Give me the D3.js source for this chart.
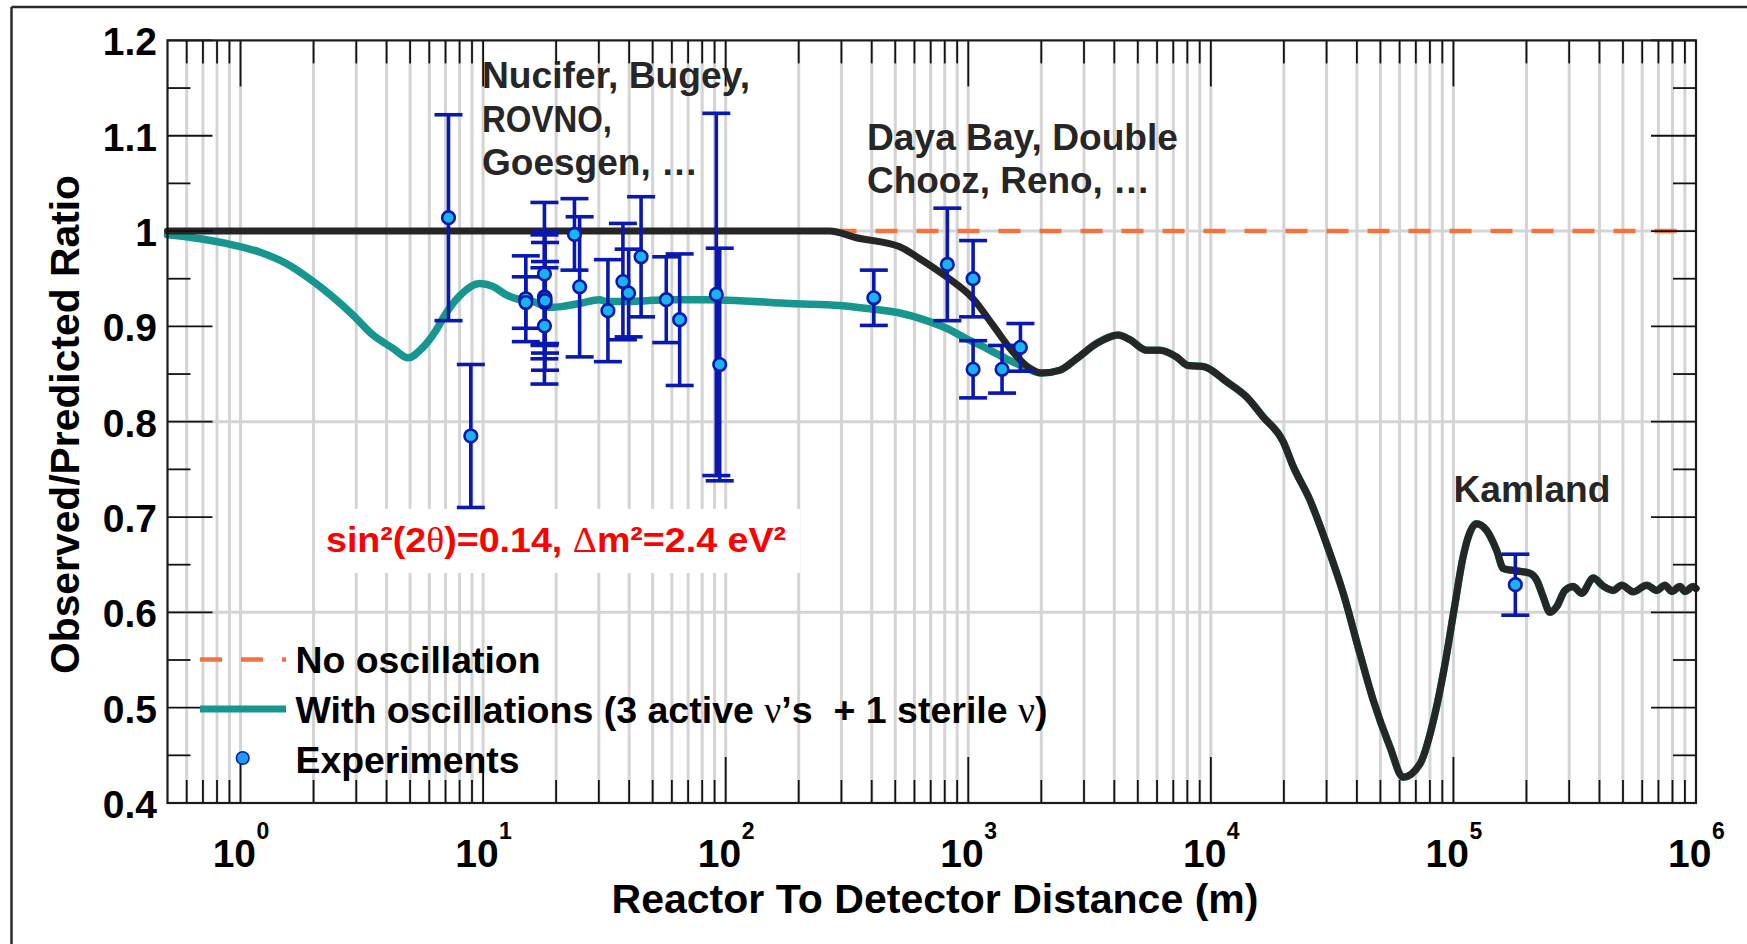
<!DOCTYPE html>
<html><head><meta charset="utf-8">
<script src="https://cdn.jsdelivr.net/npm/d3@7"></script>
<style>
html,body{margin:0;padding:0;background:#fff;}
svg{display:block;}
text{font-family:"Liberation Sans", Arial, Helvetica, sans-serif;font-weight:bold;}
</style></head><body>
<svg id="chart" width="1747" height="944"></svg>
<script>
// ---------------- DATA ----------------
const xDecades = [0, 1, 2, 3, 4, 5, 6];
const yTickValues = [0.4, 0.5, 0.6, 0.7, 0.8, 0.9, 1.0, 1.1, 1.2];
const yTickLabels = ["0.4", "0.5", "0.6", "0.7", "0.8", "0.9", "1", "1.1", "1.2"];
const yGridValues = [0.6, 0.8, 1.0];

// Experiments: distance (m), observed/predicted ratio, error
const expDistance = [7.2, 8.9, 15.0, 15.0, 17.9, 17.9, 17.9, 18.0, 18.0, 18.0,
  23.8, 25.0, 32.7, 37.7, 39.8, 44.8, 56.9, 64.6, 91.5, 94.5,
  408, 820, 1047, 1047, 1378, 1641, 180000];
const expRatio = [1.014, 0.785, 0.929, 0.925, 0.955, 0.9005, 0.931, 0.930, 0.925, 0.927,
  0.9965, 0.9415, 0.9165, 0.947, 0.935, 0.973, 0.928, 0.907, 0.9335, 0.860,
  0.930, 0.965, 0.950, 0.855, 0.855, 0.878, 0.629];
const expError = [0.108, 0.075, 0.045, 0.027, 0.075, 0.061, 0.065, 0.058, 0.043, 0.073,
  0.0375, 0.0735, 0.0535, 0.061, 0.046, 0.063, 0.045, 0.069, 0.190, 0.122,
  0.029, 0.059, 0.040, 0.030, 0.025, 0.025, 0.032];

// No oscillation
const noOscDistance = [0.5, 1000000];
const noOscRatio = [1.0, 1.0];

// 3 active + 1 sterile (teal), short-baseline part
const tealNearDistance = [0.5, 0.636, 0.873, 1.197, 1.543, 1.925, 2.40, 2.905, 3.513, 4.25, 4.9, 5.6, 6.4, 7.0, 8.0, 9.67,
  10.97, 12.47, 14.15, 16.05, 18.8, 21.3, 25.0, 30.2, 32.2, 38.9, 47.1, 60.6, 83.3, 114.2, 183.7,
  295, 405, 522, 673, 813, 984, 1188, 1436, 1683];
const tealNearRatio = [0.996, 0.993, 0.987, 0.978, 0.966, 0.950, 0.931, 0.912, 0.891, 0.877, 0.867, 0.877, 0.896, 0.913, 0.932, 0.945,
  0.942, 0.933, 0.928, 0.926, 0.920, 0.921, 0.924, 0.928, 0.926, 0.926, 0.927, 0.928, 0.928, 0.927, 0.924,
  0.922, 0.918, 0.914, 0.906, 0.898, 0.887, 0.877, 0.866, 0.858];

// 3 active only (black), short-baseline part
const blackNearDistance = [0.5, 100, 268, 346, 522, 631, 813, 1047, 1266, 1530, 1794];
const blackNearRatio = [1.0, 1.0, 1.0, 0.993, 0.9835, 0.971, 0.952, 0.929, 0.901, 0.873, 0.856];

// Long-baseline part shared by both curves
const farDistance = [2004, 2384, 2793, 3380, 4150, 4637, 5430, 6165, 7215, 8060, 9295, 11610, 14040, 16440,
  19880, 21860, 25600, 29980, 35140, 41130, 46690, 54710, 62080, 72780, 83340, 91900, 100500, 109600,
  115100, 124300, 137000, 150700, 160500, 176500, 206800, 220300, 234600, 250000, 266500, 288300,
  311900, 337900, 377200, 414800, 456000, 493800, 551300, 626200, 688600, 744700, 794300, 859000,
  900500, 975000, 1000000];
const farRatio = [0.851, 0.854, 0.866, 0.882, 0.891, 0.886, 0.875, 0.875, 0.868, 0.859, 0.858, 0.842, 0.826, 0.805,
  0.779, 0.753, 0.718, 0.672, 0.620, 0.557, 0.508, 0.459, 0.427, 0.441, 0.490, 0.543, 0.602, 0.658,
  0.679, 0.693, 0.686, 0.665, 0.646, 0.644, 0.641, 0.634, 0.616, 0.600, 0.606, 0.623,
  0.627, 0.620, 0.636, 0.6275, 0.623, 0.6285, 0.6215, 0.6285, 0.623, 0.6285, 0.622, 0.627,
  0.622, 0.627, 0.625];

const groupLabelLines = [["Nucifer, Bugey,", "ROVNO,", "Goesgen, …"], ["Daya Bay, Double", "Chooz, Reno, …"], ["Kamland"]];
const legendLabels = ["No oscillation", "With oscillations (3 active ν’s  + 1 sterile ν)", "Experiments"];

// ---------------- DRAWING ----------------
const svg = d3.select("#chart");
const X0 = 167.5, X1 = 1696, Y0 = 40.4, Y1 = 803;
const x = d3.scaleLog().domain([0.5, 1e6]).range([X0, X1]);
const y = d3.scaleLinear().domain([0.4, 1.2]).range([Y1, Y0]);

const GRID = "#d4d4d4", TEAL = "#16968f", BLACK = "#262626", ORANGE = "#f4733c",
      EBLUE = "#0a18b0", MFILL = "#19b3ee", TXT = "#262626";
const SERIF = "'Liberation Serif', 'DejaVu Serif', serif";

// outer frame
svg.append("line").attr("x1", 11.5).attr("x2", 1747).attr("y1", 7).attr("y2", 7).attr("stroke", "#2a2a2a").attr("stroke-width", 2.5);
svg.append("line").attr("x1", 11.5).attr("x2", 11.5).attr("y1", 7).attr("y2", 944).attr("stroke", "#2a2a2a").attr("stroke-width", 2.5);

// x tick values: k * 10^n
const xTickVals = [];
for (let n = -1; n <= 5; n++) for (let k = 1; k <= 9; k++) {
  const v = +(k * Math.pow(10, n)).toPrecision(3);
  if (v > 0.5 && v <= 1e6) xTickVals.push(v);
}
xTickVals.push(1e6);
const isDecade = v => Math.abs(Math.log10(v) - Math.round(Math.log10(v))) < 1e-9;

// grid
const g = svg.append("g");
g.selectAll("line.vg").data(xTickVals.filter(v => v < 1e6)).enter().append("line")
  .attr("x1", d => x(d)).attr("x2", d => x(d)).attr("y1", Y0).attr("y2", Y1)
  .attr("stroke", GRID).attr("stroke-width", 3);
g.selectAll("line.hg").data(yGridValues).enter().append("line")
  .attr("x1", X0).attr("x2", X1).attr("y1", d => y(d)).attr("y2", d => y(d))
  .attr("stroke", GRID).attr("stroke-width", 3);

// annotation box
svg.append("rect").attr("x", 316).attr("y", 509).attr("width", 484).attr("height", 64).attr("fill", "#fff");
const ann = svg.append("text").attr("x", 326).attr("y", 552).attr("fill", "#ff0000").style("font-size", "35px")
  .attr("textLength", 460).attr("lengthAdjust", "spacingAndGlyphs");
ann.append("tspan").text("sin²(2");
ann.append("tspan").style("font-family", SERIF).style("font-weight", "normal").text("θ");
ann.append("tspan").text(")=0.14, ");
ann.append("tspan").style("font-family", SERIF).style("font-weight", "normal").text("Δ");
ann.append("tspan").text("m²=2.4 eV²");

// curves
const line = d3.line().x(d => x(d[0])).y(d => y(d[1])).curve(d3.curveMonotoneX);
const noOsc = noOscDistance.map((d, i) => [d, noOscRatio[i]]);
const teal = tealNearDistance.map((d, i) => [d, tealNearRatio[i]]).concat(farDistance.map((d, i) => [d, farRatio[i]]));
const black = blackNearDistance.map((d, i) => [d, blackNearRatio[i]]).concat(farDistance.map((d, i) => [d, farRatio[i]]));

svg.append("path").attr("d", line(noOsc)).attr("fill", "none").attr("stroke", ORANGE).attr("stroke-width", 4.5)
  .attr("stroke-dasharray", "22 19").attr("stroke-dashoffset", 30);
svg.append("path").attr("d", line(teal)).attr("fill", "none").attr("stroke", TEAL).attr("stroke-width", 7.5)
  .attr("stroke-linejoin", "round").attr("stroke-linecap", "round");
svg.append("path").attr("d", line(black)).attr("fill", "none").attr("stroke", BLACK).attr("stroke-width", 7)
  .attr("stroke-linejoin", "round").attr("stroke-linecap", "round");

// experiments
const exps = expDistance.map((d, i) => ({d, r: expRatio[i], e: expError[i]}));
const eb = svg.append("g").attr("stroke", EBLUE).attr("stroke-width", 3.6);
exps.forEach(p => {
  const cx = x(p.d);
  eb.append("line").attr("x1", cx).attr("x2", cx).attr("y1", y(p.r + p.e)).attr("y2", y(p.r - p.e));
  eb.append("line").attr("x1", cx - 14).attr("x2", cx + 14).attr("y1", y(p.r + p.e)).attr("y2", y(p.r + p.e));
  eb.append("line").attr("x1", cx - 14).attr("x2", cx + 14).attr("y1", y(p.r - p.e)).attr("y2", y(p.r - p.e));
});
svg.append("g").selectAll("circle").data(exps).enter().append("circle")
  .attr("cx", p => x(p.d)).attr("cy", p => y(p.r)).attr("r", 6.3)
  .attr("fill", MFILL).attr("stroke", EBLUE).attr("stroke-width", 2.6);

// ticks
const tk = svg.append("g").attr("stroke", "#111").attr("stroke-width", 1.8);
d3.range(0, 17).map(i => 0.4 + i * 0.05).forEach((v, i) => {
  const L = (i % 2 === 0) ? 45 : 23;
  tk.append("line").attr("x1", X0).attr("x2", X0 + L).attr("y1", y(v)).attr("y2", y(v));
  tk.append("line").attr("x1", X1 - L).attr("x2", X1).attr("y1", y(v)).attr("y2", y(v));
});
xTickVals.forEach(v => {
  const L = isDecade(v) ? 46 : 23;
  tk.append("line").attr("x1", x(v)).attr("x2", x(v)).attr("y1", Y1).attr("y2", Y1 - L);
  tk.append("line").attr("x1", x(v)).attr("x2", x(v)).attr("y1", Y0).attr("y2", Y0 + L);
});

// frame
svg.append("rect").attr("x", X0).attr("y", Y0).attr("width", X1 - X0).attr("height", Y1 - Y0)
  .attr("fill", "none").attr("stroke", "#1a1a1a").attr("stroke-width", 2.2);

// y tick labels
svg.append("g").selectAll("text").data(yTickValues).enter().append("text")
  .attr("x", 157).attr("y", d => y(d) + 15).attr("text-anchor", "end").attr("fill", "#000")
  .style("font-size", "39px").text((d, i) => yTickLabels[i]);

// x tick labels
const xl = svg.append("g");
xDecades.forEach(n => {
  const px = x(Math.pow(10, n));
  xl.append("text").attr("x", px + 15.5).attr("y", 867).attr("text-anchor", "end").attr("fill", "#000")
    .style("font-size", "39px").text("10");
  xl.append("text").attr("x", px + 16).attr("y", 839).attr("fill", "#000").style("font-size", "23px").text(n);
});

// axis titles
svg.append("text").attr("transform", "translate(79,424.5) rotate(-90)").attr("text-anchor", "middle")
  .attr("fill", "#000").style("font-size", "41px").attr("textLength", 499).attr("lengthAdjust", "spacingAndGlyphs")
  .text("Observed/Predicted Ratio");
svg.append("text").attr("x", 611.5).attr("y", 912.5).attr("fill", "#000").style("font-size", "41px")
  .attr("textLength", 647).attr("lengthAdjust", "spacingAndGlyphs").text("Reactor To Detector Distance (m)");

// group labels
const glPos = [{x: 482, y: 88.3, w: [268, 130, 216]}, {x: 867, y: 150, w: [311, 283]}, {x: 1453.5, y: 501.7, w: [157]}];
groupLabelLines.forEach((lines, gi) => {
  lines.forEach((t, li) => {
    svg.append("text").attr("x", glPos[gi].x).attr("y", glPos[gi].y + li * 43.2).attr("fill", TXT)
      .style("font-size", "36.5px").attr("textLength", glPos[gi].w[li]).attr("lengthAdjust", "spacingAndGlyphs").text(t);
  });
});

// legend
const lg = svg.append("g");
lg.append("line").attr("x1", 200).attr("x2", 286).attr("y1", 659.5).attr("y2", 659.5).attr("stroke", ORANGE)
  .attr("stroke-width", 4.5).attr("stroke-dasharray", "22 19");
lg.append("line").attr("x1", 200).attr("x2", 286).attr("y1", 709).attr("y2", 709).attr("stroke", TEAL).attr("stroke-width", 7);
lg.append("circle").attr("cx", 242.7).attr("cy", 758).attr("r", 6.3).attr("fill", "#1e9af0").attr("stroke", EBLUE).attr("stroke-width", 1.6);
const legY = [673, 723, 772.7], legW = [245, 752, 224];
legendLabels.forEach((t, i) => {
  const tx = lg.append("text").attr("x", 295.5).attr("y", legY[i]).attr("fill", "#000").style("font-size", "37.3px")
    .style("white-space", "pre").attr("textLength", legW[i]).attr("lengthAdjust", "spacingAndGlyphs");
  if (i === 1) {
    tx.append("tspan").text("With oscillations (3 active ");
    tx.append("tspan").style("font-family", SERIF).style("font-weight", "normal").text("ν");
    tx.append("tspan").text("’s  + 1 sterile ");
    tx.append("tspan").style("font-family", SERIF).style("font-weight", "normal").text("ν");
    tx.append("tspan").text(")");
  } else tx.text(t);
});
</script>
</body></html>
